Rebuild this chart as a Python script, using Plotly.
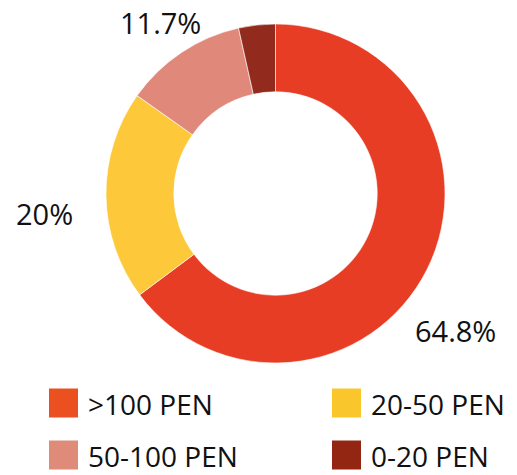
import math
import plotly.graph_objects as go

# ---- data ----
categories = [">100 PEN", "20-50 PEN", "50-100 PEN", "0-20 PEN"]
shares = [64.8, 20.0, 11.7, 3.5]
label_texts = ["64.8%", "20%", "11.7%", ""]

# ---- styles ----
slice_colors = ["#E63D24", "#FDC93A", "#E0887A", "#932A1E"]
legend_colors = ["#EA5020", "#F9C62C", "#E08A7A", "#922613"]
FONT = "Open Sans"
W, H = 517, 475

cx, cy, R = 275.5, 193.5, 169.5  # pie centre / radius in px
dom_x = [(cx - R) / W, (cx + R) / W]
dom_y = [1 - (cy + R) / H, 1 - (cy - R) / H]

fig = go.Figure(go.Pie(
    labels=categories,
    values=shares,
    hole=0.6,
    sort=False,
    direction="clockwise",
    rotation=0,
    marker=dict(colors=slice_colors, line=dict(color="white", width=0.6)),
    textinfo="none",
    hoverinfo="label+percent",
    showlegend=False,
    domain=dict(x=dom_x, y=dom_y),
))

# outside percentage labels, placed along each slice's mid-angle
label_place = {  # (radius factor, angle nudge in degrees)
    ">100 PEN": (1.333, 10.4),
    "20-50 PEN": (1.37, -3.9),
    "50-100 PEN": (1.22, 0.0),
}
total = sum(shares)
cum = 0.0
for cat, v, txt in zip(categories, shares, label_texts):
    mid = (cum + v / 2) / total * 360.0
    cum += v
    if not txt:
        continue
    rf, nudge = label_place.get(cat, (1.25, 0.0))
    a = math.radians(mid + nudge)
    px = cx + R * rf * math.sin(a)
    py = cy - R * rf * math.cos(a) + 1
    fig.add_annotation(x=px / W, y=1 - py / H, xref="paper", yref="paper",
                       text=txt, showarrow=False, xanchor="center", yanchor="middle",
                       borderpad=0,
                       font=dict(family=FONT, size=29, color="#111111"))

# custom legend (2 columns)
col_x = [49, 332]
row_y = [403, 455]
sq = 29
for i, cat in enumerate(categories):
    c, r = i % 2, i // 2
    x0 = col_x[c]
    yc = row_y[r]
    fig.add_shape(type="rect", xref="paper", yref="paper",
                  x0=x0 / W, x1=(x0 + sq) / W,
                  y0=1 - (yc + sq / 2) / H, y1=1 - (yc - sq / 2) / H,
                  fillcolor=legend_colors[i], line=dict(width=0))
    fig.add_annotation(x=(x0 + sq + 9) / W, y=1 - (yc + 1) / H, xref="paper", yref="paper",
                       text=cat, showarrow=False, xanchor="left", yanchor="middle",
                       borderpad=0,
                       font=dict(family=FONT, size=28, color="#111111"))

fig.update_layout(
    width=W, height=H,
    margin=dict(l=0, r=0, t=0, b=0),
    paper_bgcolor="white",
    plot_bgcolor="white",
)

fig.write_html("out.html", config={"displayModeBar": False},
               post_script="document.body.style.margin='0';document.body.style.padding='0';")
